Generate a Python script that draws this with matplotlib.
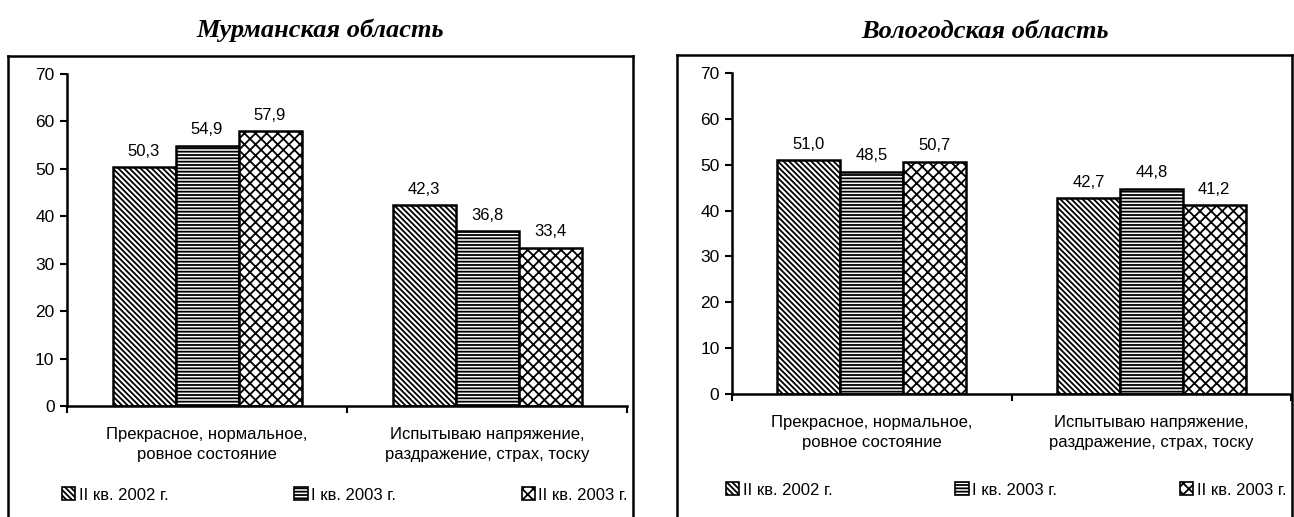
import matplotlib
matplotlib.use("Agg")
import matplotlib.pyplot as plt
import numpy as np
from matplotlib.lines import Line2D
from matplotlib.patches import Patch

# data
categories = ["Прекрасное, нормальное,\nровное состояние",
              "Испытываю напряжение,\nраздражение, страх, тоску"]
series_names = ["II кв. 2002 г.", "I кв. 2003 г.", "II кв. 2003 г."]
murmansk = [[50.3, 42.3], [54.9, 36.8], [57.9, 33.4]]
vologda = [[51.0, 42.7], [48.5, 44.8], [50.7, 41.2]]
yticks = [0, 10, 20, 30, 40, 50, 60, 70]
hatches = ["\\" * 6, "-" * 5, "xxx"]

plt.rcParams["font.family"] = ["Liberation Sans", "DejaVu Sans"]
plt.rcParams["hatch.linewidth"] = 1.3

W, H = 1294, 517
fig = plt.figure(figsize=(W / 100, H / 100), dpi=100)


def fx(px):
    return px / W


def fy(py):
    return 1 - py / H


def draw_panel(rect, values, title, title_xy, box, legend_box):
    ax = fig.add_axes(rect)
    x = np.arange(len(categories))
    width = 0.225
    for i, vals in enumerate(values):
        bars = ax.bar(x + (i - 1) * width, vals, width, color="white",
                      edgecolor="black", linewidth=1.8, hatch=hatches[i])
        ax.bar_label(bars, labels=[f"{v:.1f}".replace(".", ",") for v in vals],
                     padding=6, fontsize=12)
    ax.set_xlim(-0.5, 1.5)
    ax.set_ylim(0, 70)
    ax.set_yticks(yticks)
    ax.tick_params(axis="y", direction="out", length=5, width=1.5, labelsize=12.5, pad=4)
    ax.set_xticks([-0.5, 0.5, 1.5])
    ax.set_xticklabels([])
    ax.tick_params(axis="x", which="major", direction="out", length=5, width=1.5)
    ax.set_xticks(x, minor=True)
    ax.set_xticklabels(categories, minor=True, fontsize=12, linespacing=1.45)
    ax.tick_params(axis="x", which="minor", length=0, pad=15)
    for s in ["top", "right"]:
        ax.spines[s].set_visible(False)
    for s in ["left", "bottom"]:
        ax.spines[s].set_linewidth(1.8)
    ax.patch.set_alpha(0)

    fig.text(fx(title_xy[0]), fy(title_xy[1]), title, ha="center", va="center",
             fontsize=19, fontweight="bold", fontstyle="italic",
             family=["Liberation Serif", "DejaVu Serif"])

    # frame around the chart (bottom edge cut off)
    x0, x1, y0 = box
    for xs, ys in [([x0, x1], [y0, y0]), ([x0, x0], [y0, H]), ([x1, x1], [y0, H])]:
        fig.add_artist(Line2D([fx(v) for v in xs], [fy(v) for v in ys],
                              color="black", linewidth=1.8))

    handles = [Patch(facecolor="white", edgecolor="black", hatch=h, linewidth=1.2)
               for h in hatches]
    lx0, lx1, ly = legend_box
    fig.legend(handles, series_names, loc="center left", ncol=3, mode="expand",
               bbox_to_anchor=(fx(lx0), fy(ly), fx(lx1) - fx(lx0), 0),
               frameon=False, fontsize=12, handlelength=0.8, handleheight=0.8,
               handletextpad=0.2, borderpad=0, borderaxespad=0)
    return ax


draw_panel([fx(67), fy(406), fx(627) - fx(67), fy(74) - fy(406)], murmansk,
           "Мурманская область", (320, 30), (8, 633, 56), (62, 628, 495))
draw_panel([fx(732), fy(394), fx(1291) - fx(732), fy(73) - fy(394)], vologda,
           "Вологодская область", (985, 32), (677, 1292, 55), (726, 1286, 490))

fig.savefig("out.png", dpi=100)
